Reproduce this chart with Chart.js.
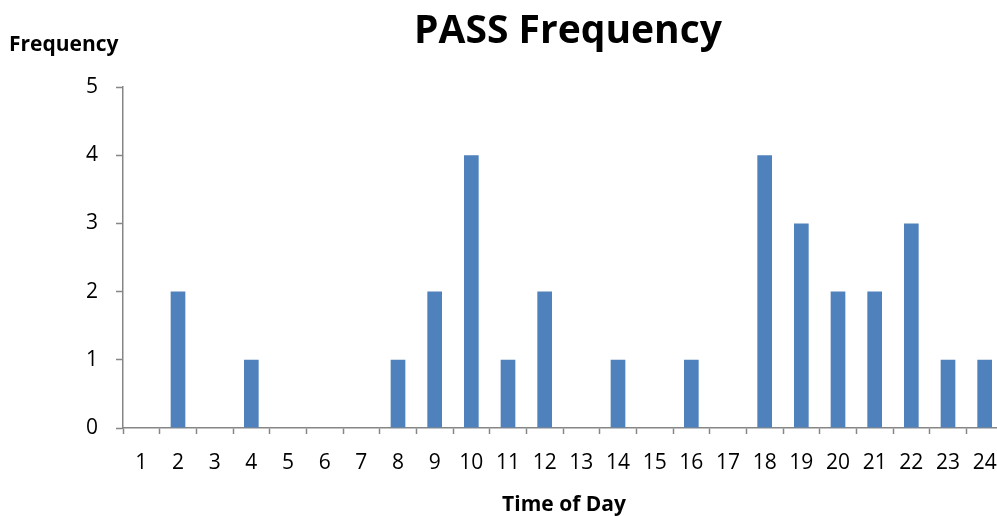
<!DOCTYPE html>
<html><head><meta charset="utf-8">
<script src="https://cdn.jsdelivr.net/npm/chart.js@4/dist/chart.umd.min.js"></script>
<style>html,body{margin:0;padding:0;overflow:hidden;background:#fff}#wrap{width:1010px;height:516px;position:relative}</style>
</head><body><div id="wrap"><canvas id="c" width="1010" height="516"></canvas></div>
<script>
const hours = ['1','2','3','4','5','6','7','8','9','10','11','12','13','14','15','16','17','18','19','20','21','22','23','24'];
const passCounts = [0,2,0,1,0,0,0,1,2,4,1,2,0,1,0,1,0,4,3,2,2,3,1,1];
const yTicks = [0,1,2,3,4,5];
const chartTitle = 'PASS Frequency';
const yTitle = 'Frequency';
const xTitle = 'Time of Day';
const FONT = '"Open Sans", sans-serif';
const textPlugin = {
  id: 'texts',
  afterDraw(chart) {
    const ctx = chart.ctx;
    ctx.save();
    ctx.fillStyle = '#000';
    ctx.textBaseline = 'alphabetic';
    ctx.textAlign = 'center';
    ctx.font = 'bold 39px ' + FONT;
    ctx.fillText(chartTitle, 568, 43);
    ctx.textAlign = 'left';
    ctx.font = 'bold 21px ' + FONT;
    ctx.fillText(yTitle, 9, 51);
    ctx.textAlign = 'center';
    ctx.font = 'bold 21px ' + FONT;
    ctx.fillText(xTitle, 564, 511);
    ctx.restore();
  }
};
new Chart(document.getElementById('c'), {
  type: 'bar',
  data: { labels: hours, datasets: [{ data: passCounts, backgroundColor: '#4F81BD', borderWidth: 0, barPercentage: 0.4, categoryPercentage: 1 }] },
  options: {
    responsive: false, animation: false,
    layout: { padding: { left: 0, right: 7, top: 87, bottom: 0 } },
    plugins: { legend: { display: false }, tooltip: { enabled: false }, title: { display: false } },
    scales: {
      x: {
        offset: true,
        grid: { offset: true, drawOnChartArea: false, color: '#868686', tickLength: 6, tickWidth: 1.5 },
        border: { color: '#868686', width: 1.5 },
        ticks: { color: '#000', font: { family: FONT, size: 21 }, padding: 16, maxRotation: 0, autoSkip: false },
        afterFit(s) { s.height = 88; s.paddingLeft = 0; s.paddingRight = 0; }
      },
      y: {
        min: 0, max: 5,
        afterBuildTicks(s) { s.ticks = yTicks.map(v => ({ value: v })); },
        grid: { drawOnChartArea: false, color: '#868686', tickLength: 7, tickWidth: 1.5 },
        border: { color: '#868686', width: 1.5 },
        ticks: { color: '#000', font: { family: FONT, size: 21 }, padding: 18 },
        afterFit(s) { s.width = 123; s.paddingTop = 0; s.paddingBottom = 0; }
      }
    }
  },
  plugins: [textPlugin]
});
</script></body></html>
